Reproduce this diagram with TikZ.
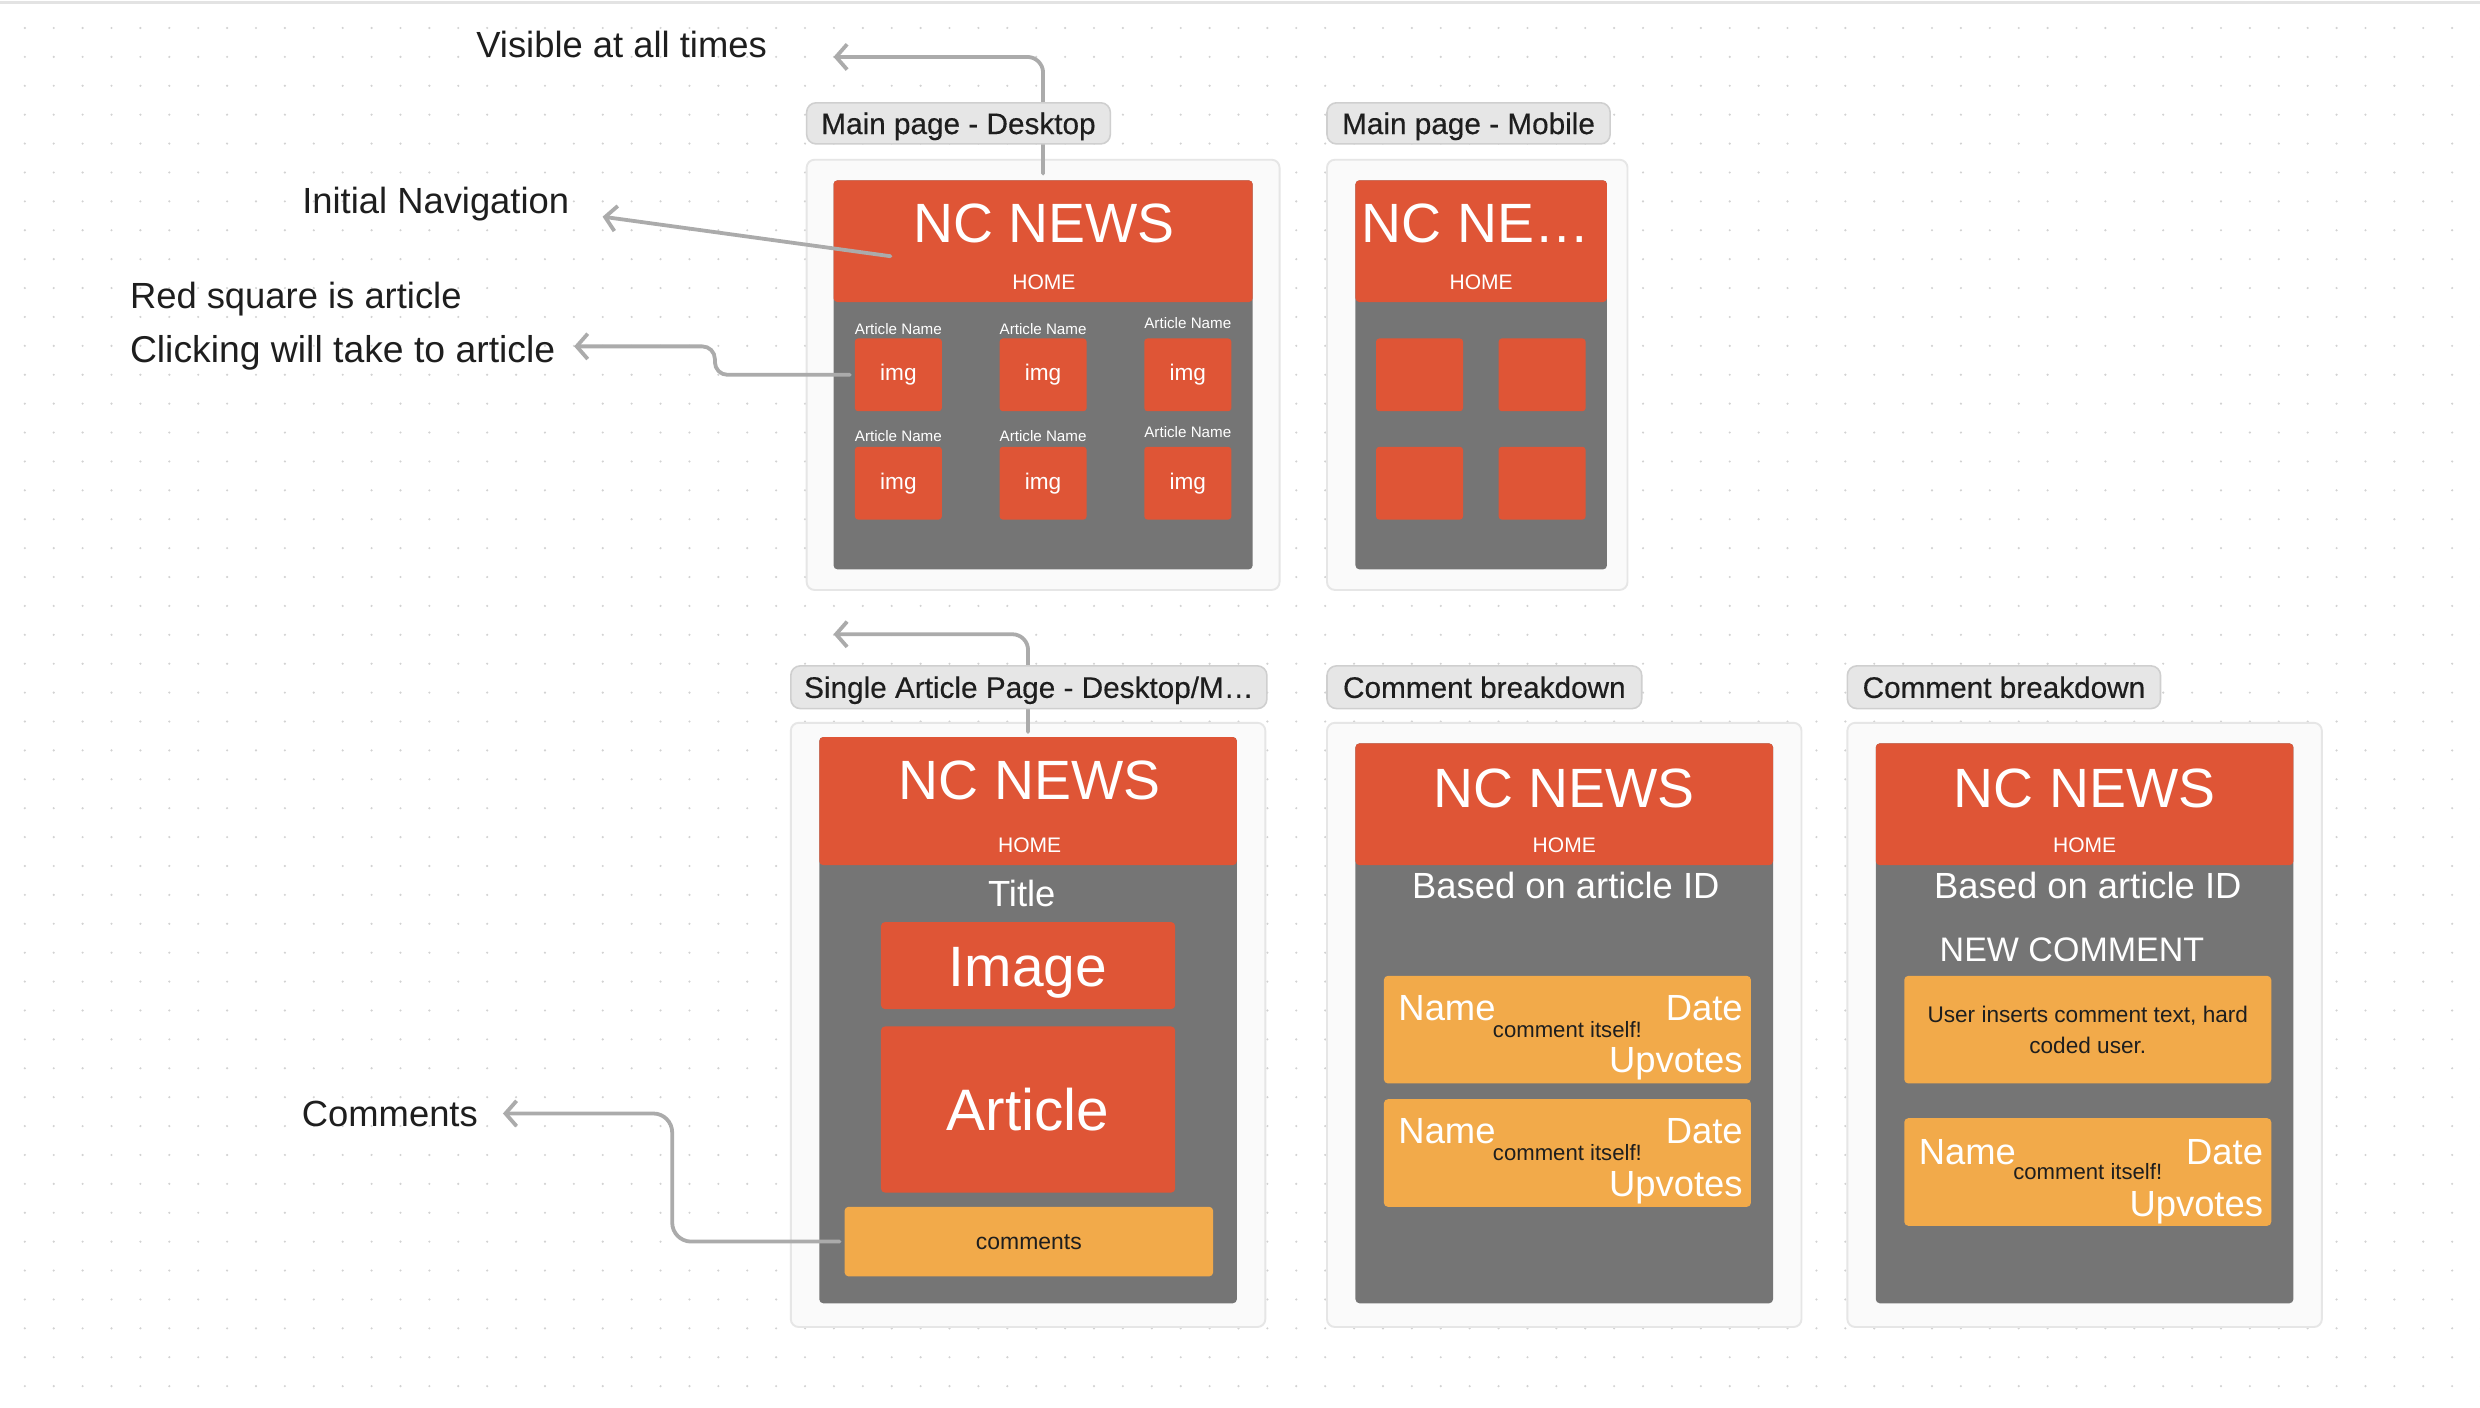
\documentclass[tikz,border=0pt]{standalone}
\usepackage{fontspec}
\setmainfont{Liberation Sans}
\newfontfamily\pillfont[FakeBold=0.35]{Liberation Sans}
\usetikzlibrary{arrows.meta}
\definecolor{ncred}{HTML}{DF5536}
\definecolor{scrgray}{HTML}{757575}
\definecolor{cmtorange}{HTML}{F2AA4A}
\definecolor{pillbg}{HTML}{E6E6E6}
\definecolor{pillbd}{HTML}{CFCFCF}
\definecolor{framebg}{HTML}{FAFAFA}
\definecolor{framebd}{HTML}{E6E6E6}
\definecolor{conngray}{HTML}{ABABAB}
\definecolor{dotc}{HTML}{D2D2D2}
\definecolor{topline}{HTML}{E3E3E3}
\definecolor{inkc}{HTML}{1E1E1E}
\newcommand\myfs[1]{\fontsize{#1}{#1}\selectfont}
\begin{document}
\begin{tikzpicture}[x=1pt,y=-1pt,
 wh/.style 2 args={minimum width=#1pt, minimum height=#2pt},
 frame/.style={draw=framebd, fill=framebg, line width=1.2pt, rounded corners=5pt, inner sep=0},
 scr/.style={fill=scrgray, rounded corners=2.5pt, inner sep=0},
 hdr/.style={fill=ncred, rounded corners=2.5pt, inner sep=0},
 txt/.style={inner sep=0, text depth=0pt},
 title/.style={txt, text=white, font=\myfs{35}, text height=25pt},
 home/.style={txt, text=white, font=\myfs{13.3}, text height=9.5pt},
 wtext/.style={txt, text=white, font=\myfs{23}, text height=16.5pt},
 artname/.style={txt, text=white, font=\myfs{9.6}, text height=6.9pt},
 imgbox/.style={fill=ncred, rounded corners=2pt, inner sep=0, wh={55}{46}, text=white, font=\myfs{14.3}},
 sqbox/.style={fill=ncred, rounded corners=2pt, inner sep=0, wh={55}{46}},
 redbox/.style={fill=ncred, rounded corners=2.5pt, inner sep=0, text=white, text depth=0pt},
 cmt/.style={fill=cmtorange, rounded corners=2.5pt, inner sep=0, text=inkc},
 cardbig/.style={txt, text=white, font=\myfs{23}, text height=16.5pt},
 cardsmall/.style={txt, text=inkc, font=\myfs{14}, text height=10pt},
 pill/.style={draw=pillbd, fill=pillbg, line width=1pt, rounded corners=6pt, inner sep=0, text=inkc, font=\pillfont\myfs{18.8}, text height=13.5pt, text depth=0pt},
 note/.style={txt, text=inkc, font=\myfs{23}, text height=16.5pt},
 conn/.style={draw=conngray, line width=2.4pt, line cap=round, line join=round, -{Straight Barb[length=7pt,width=16pt]}}
]
\useasboundingbox[fill=white] (0,0) rectangle (1568,890.2);
% background dots
\foreach \i in {0,...,85}{\foreach \j in {0,...,48}{\fill[dotc] (15.7+18.27*\i,17.7+18.27*\j) circle (0.75pt);}}
\draw[topline, line width=1.9pt] (0,1.6) -- (1568,1.6);

% ---------- frames ----------
\node[frame, wh={299}{272}] (fD) at (659.5,237) {};
\node[frame, wh={190}{272}] (fM) at (934,237) {};
\node[frame, wh={300}{382}] (fA) at (650,648) {};
\node[frame, wh={300}{382}] (fC1) at (989,648) {};
\node[frame, wh={300}{382}] (fC2) at (1318,648) {};

% ---------- Main page - Desktop ----------
\node[scr, wh={265}{246}] (sD) at (659.5,237) {};
\node[hdr, wh={265}{77}] (hD) at (659.5,152.5) {};
\node[title] (tD) at (660,141) {NC NEWS};
\node[home] (hmD) at (660,178) {HOME};
\foreach \c/\x/\ya/\yb in {1/568/208/276, 2/659.5/208/276, 3/751/204/273}{
  \node[imgbox] (iD\c-a) at (\x,237) {img};
  \node[imgbox] (iD\c-b) at (\x,305.5) {img};
  \node[artname] (anD\c-a) at (\x,\ya) {Article Name};
  \node[artname] (anD\c-b) at (\x,\yb) {Article Name};
}

% ---------- Main page - Mobile ----------
\node[scr, wh={159}{246}] (sM) at (936.5,237) {};
\node[hdr, wh={159}{77}] (hM) at (936.5,152.5) {};
\node[title] (tM) at (933,141) {NC NE…};
\node[home] (hmM) at (936.5,178) {HOME};
\node[sqbox] (qM1) at (897.5,237) {};
\node[sqbox] (qM2) at (975,237) {};
\node[sqbox] (qM3) at (897.5,305.5) {};
\node[sqbox] (qM4) at (975,305.5) {};

% ---------- Single Article Page ----------
\node[scr, wh={264}{358}] (sA) at (650,645) {};
\node[hdr, wh={264}{81}] (hA) at (650,506.5) {};
\node[title] (tA) at (651,493) {NC NEWS};
\node[home] (hmA) at (651,534) {HOME};
\node[wtext] (ttlA) at (646,565) {Title};
\node[redbox, wh={186}{55}, font=\myfs{36}, text height=26pt] (imgA) at (650,610.5) {Image};
\node[redbox, wh={186}{105}, font=\myfs{37}, text height=26.6pt] (artA) at (650,701.5) {Article};
\node[cmt, wh={233}{44}, font=\myfs{14.5}, text height=10pt, text depth=0pt] (cmA) at (650.5,785) {comments};

% ---------- Comment breakdown 1 ----------
\node[scr, wh={264}{354}] (sC1) at (989,647) {};
\node[hdr, wh={264}{77}] (hC1) at (989,508.5) {};
\node[title] (tC1) at (989,498) {NC NEWS};
\node[home] (hmC1) at (989,534) {HOME};
\node[wtext] (bC1) at (990,560) {Based on article ID};
\foreach \k/\y in {1/651, 2/729}{
  \node[cmt, wh={232}{68}] (cC1-\k) at (991,\y) {};
  \node[cardbig, anchor=west] (nmC1-\k) at (884,\y-14) {Name};
  \node[cardbig, anchor=east] (dtC1-\k) at (1102,\y-14) {Date};
  \node[cardsmall] (ciC1-\k) at (991,\y) {comment itself!};
  \node[cardbig, anchor=east] (upC1-\k) at (1102,\y+19) {Upvotes};
}

% ---------- Comment breakdown 2 ----------
\node[scr, wh={264}{354}] (sC2) at (1318,647) {};
\node[hdr, wh={264}{77}] (hC2) at (1318,508.5) {};
\node[title] (tC2) at (1318,498) {NC NEWS};
\node[home] (hmC2) at (1318,534) {HOME};
\node[wtext] (bC2) at (1320,560) {Based on article ID};
\node[wtext, font=\myfs{21.5}, text height=15.5pt] (ncC2) at (1310,600) {NEW COMMENT};
\node[cmt, wh={232}{68}, font=\myfs{14.3}, align=center] (ucC2) at (1320,651) {User inserts comment text, hard\\[5.5pt]coded user.};
\node[cmt, wh={232}{68}] (cC2) at (1320,741) {};
\node[cardbig, anchor=west] (nmC2) at (1213,728) {Name};
\node[cardbig, anchor=east] (dtC2) at (1431,728) {Date};
\node[cardsmall] (ciC2) at (1320,741) {comment itself!};
\node[cardbig, anchor=east] (upC2) at (1431,761) {Upvotes};

% ---------- connectors ----------
\coordinate (aVis) at (527,36);
\coordinate (nav0) at (563,162);
\coordinate (aNav) at (381,137);
\coordinate (aClk) at (363,219);
\coordinate (aArt) at (527,401);
\coordinate (aCom) at (318,704);
\draw[conn, rounded corners=10pt] ([yshift=4pt]hD.north) |- (aVis);
\draw[conn] (nav0) -- (aNav);
\draw[conn, rounded corners=8pt] ([xshift=-3pt]iD1-a.west) -- (452,237) -- (452,219) -- (aClk);
\draw[conn, rounded corners=10pt] ([yshift=3pt]hA.north) |- (aArt);
\draw[conn, rounded corners=12pt] ([xshift=-3pt]cmA.west) -- (425,785) -- (425,704) -- (aCom);

% ---------- pills ----------
\node[pill, wh={192}{26}] (pD) at (606,78) {Main page - Desktop};
\node[pill, wh={179}{26}] (pM) at (928.5,78) {Main page - Mobile};
\node[pill, wh={301}{27}] (pA) at (650.5,434.5) {Single Article Page - Desktop/M…};
\node[pill, wh={199}{27}] (pC1) at (938.5,434.5) {Comment breakdown};
\node[pill, wh={198}{27}] (pC2) at (1267,434.5) {Comment breakdown};

% ---------- notes ----------
\node[note] (nVis) at (393,28) {Visible at all times};
\node[note] (nNav) at (275.5,127) {Initial Navigation};
\node[note, anchor=west] (nRed) at (82,187) {Red square is article};
\node[note, anchor=west, font=\myfs{23.6}, text height=17pt] (nClk) at (82,221) {Clicking will take to article};
\node[note] (nCom) at (246.5,704) {Comments};
\end{tikzpicture}
\end{document}
